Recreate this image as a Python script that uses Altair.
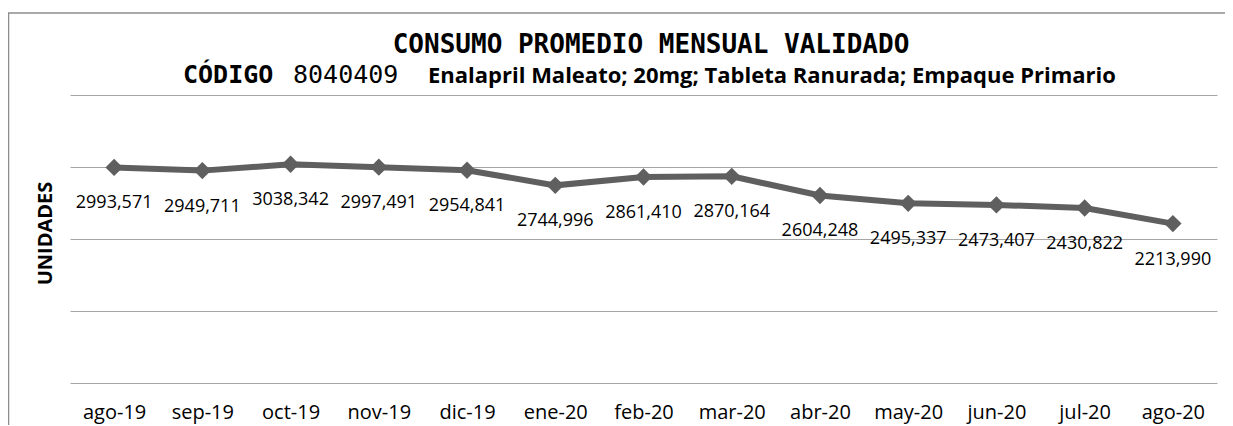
import altair as alt
import pandas as pd

months = ["ago-19", "sep-19", "oct-19", "nov-19", "dic-19", "ene-20", "feb-20",
          "mar-20", "abr-20", "may-20", "jun-20", "jul-20", "ago-20"]
consumo = [2993.571, 2949.711, 3038.342, 2997.491, 2954.841, 2744.996, 2861.410,
           2870.164, 2604.248, 2495.337, 2473.407, 2430.822, 2213.990]
y_ticks = [0, 1000, 2000, 3000, 4000]

title_1 = "CONSUMO PROMEDIO MENSUAL VALIDADO"
title_2a = "CÓDIGO"
title_2b = "8040409"
title_2c = "Enalapril Maleato; 20mg; Tableta Ranurada; Empaque Primario"
y_title = "UNIDADES"

df = pd.DataFrame({
    "mes": months,
    "valor": consumo,
    "etiqueta": [f"{v:.3f}".replace(".", ",") for v in consumo],
})

LINE = "#5f5f5f"
W, H = 1147, 288

x = alt.X("mes:N", sort=months, title=None,
          axis=alt.Axis(labelAngle=0, domain=False, ticks=False, tickSize=0,
                        labelPadding=35, labelBaseline="alphabetic",
                        labelFont="Open Sans", labelFontSize=20,
                        labelColor="#000000"),
          scale=alt.Scale(padding=0.5))
y = alt.Y("valor:Q", title=y_title,
          scale=alt.Scale(domain=[0, 4000], nice=False, zero=True),
          axis=alt.Axis(values=y_ticks, labels=False, ticks=False, tickSize=0, domain=False,
                        grid=True, gridColor="#a6a6a6", gridWidth=1.2,
                        titleFont="Open Sans", titleFontSize=20, titleFontWeight="bold",
                        titleColor="#000000", titleAngle=270, titleX=-25, titleY=138,
                        titleAlign="center", titleBaseline="middle"))

base = alt.Chart(df)
line = base.mark_line(color=LINE, strokeWidth=6).encode(x=x, y=y)
pts = base.mark_point(shape="diamond", filled=True, size=300, color=LINE, opacity=1).encode(x=x, y=y)
labels = base.mark_text(font="Open Sans", fontSize=18, color="#000000", dy=36,
                        baseline="middle", align="center").encode(x=x, y=y, text="etiqueta:N")

one = alt.Data(values=[{}])
frame_left = alt.Chart(one).mark_rule(color="#8c8c8c", strokeWidth=1.5).encode(
    x=alt.value(-61.5), y=alt.value(-82), y2=alt.value(340))
frame_top = alt.Chart(one).mark_rule(color="#8c8c8c", strokeWidth=1.5).encode(
    x=alt.value(-62), x2=alt.value(1160), y=alt.value(-82))

t1 = alt.Chart(one).mark_text(font="DejaVu Sans Mono", fontWeight="bold", fontSize=26,
                              align="center", baseline="alphabetic", color="#000000").encode(
    x=alt.value(581), y=alt.value(-42), text=alt.value(title_1))
t2a = alt.Chart(one).mark_text(font="DejaVu Sans Mono", fontWeight="bold", fontSize=25,
                               align="left", baseline="alphabetic", color="#000000").encode(
    x=alt.value(113), y=alt.value(-12), text=alt.value(title_2a))
t2b = alt.Chart(one).mark_text(font="DejaVu Sans Mono", fontWeight="normal", fontSize=25,
                               align="left", baseline="alphabetic", color="#000000").encode(
    x=alt.value(223), y=alt.value(-12), text=alt.value(title_2b))
t2c = alt.Chart(one).mark_text(font="Open Sans", fontWeight="bold", fontSize=22,
                               align="left", baseline="alphabetic", color="#000000").encode(
    x=alt.value(358), y=alt.value(-12), text=alt.value(title_2c))

chart = alt.layer(line, pts, labels, frame_left, frame_top, t1, t2a, t2b, t2c).properties(
    width=W, height=H,
    background="#ffffff",
    autosize=alt.AutoSizeParams(type="none"),
    padding={"left": 62, "top": 87, "right": 8, "bottom": 42},
).configure_view(stroke=None)

chart.save("out.html", embed_options={"renderer": "svg", "actions": False})
